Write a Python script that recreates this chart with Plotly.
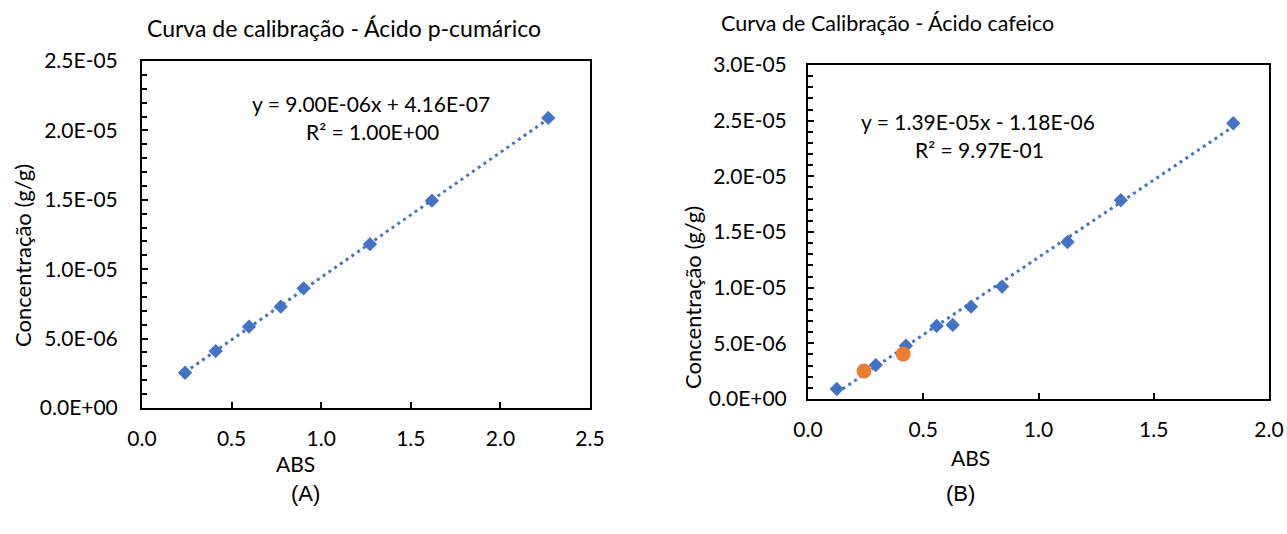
import numpy as np
import plotly.graph_objects as go

# ---------------- data ----------------
# (A) Ácido p-cumárico
abs_a = [0.240, 0.411, 0.597, 0.774, 0.902, 1.272, 1.618, 2.267]
conc_a = [2.54e-6, 4.10e-6, 5.86e-6, 7.30e-6, 8.62e-6, 1.18e-5, 1.494e-5, 2.09e-5]
slope_a, intercept_a = 9.00e-6, 4.16e-7
eq_a = "y = 9.00E-06x + 4.16E-07"
r2_a = "R² = 1.00E+00"

# (B) Ácido cafeico
abs_b = [0.125, 0.294, 0.425, 0.558, 0.628, 0.707, 0.842, 1.126, 1.357, 1.845]
conc_b = [0.90e-6, 3.05e-6, 4.79e-6, 6.56e-6, 6.65e-6, 8.29e-6, 1.01e-5, 1.41e-5, 1.785e-5, 2.477e-5]
abs_b_samples = [0.243, 0.413]
conc_b_samples = [2.52e-6, 4.04e-6]
slope_b, intercept_b = 1.39e-5, -1.18e-6
eq_b = "y = 1.39E-05x - 1.18E-06"
r2_b = "R² = 9.97E-01"

title_a = "Curva de calibração - Ácido p-cumárico"
title_b = "Curva de Calibração - Ácido cafeico"
xtitle = "ABS"
ytitle = "Concentração (g/g)"

ytick_a = [0, 5e-6, 1e-5, 1.5e-5, 2e-5, 2.5e-5]
ytext_a = ["0.0E+00", "5.0E-06", "1.0E-05", "1.5E-05", "2.0E-05", "2.5E-05"]
ytick_b = [0, 5e-6, 1e-5, 1.5e-5, 2e-5, 2.5e-5, 3e-5]
ytext_b = ["0.0E+00", "5.0E-06", "1.0E-05", "1.5E-05", "2.0E-05", "2.5E-05", "3.0E-05"]

# ---------------- layout helpers ----------------
W, H = 1287, 534
def px(x):
    return x / W
def py(y):
    return 1 - y / H

BLUE = "#4472C4"
ORANGE = "#ED7D31"
FONT = "Lato"

fig = go.Figure()

# trendlines
xa = np.array([min(abs_a), max(abs_a)])
fig.add_trace(go.Scatter(x=xa, y=slope_a * xa + intercept_a, mode="lines",
                         line=dict(color=BLUE, width=3, dash="3px,4px"),
                         xaxis="x", yaxis="y", showlegend=False, hoverinfo="skip"))
xb = np.array([min(abs_b), max(abs_b)])
fig.add_trace(go.Scatter(x=xb, y=slope_b * xb + intercept_b, mode="lines",
                         line=dict(color=BLUE, width=3, dash="3px,4px"),
                         xaxis="x2", yaxis="y2", showlegend=False, hoverinfo="skip"))

# points
fig.add_trace(go.Scatter(x=abs_a, y=conc_a, mode="markers",
                         marker=dict(symbol="diamond", size=11, color=BLUE),
                         xaxis="x", yaxis="y", showlegend=False))
fig.add_trace(go.Scatter(x=abs_b, y=conc_b, mode="markers",
                         marker=dict(symbol="diamond", size=11, color=BLUE),
                         xaxis="x2", yaxis="y2", showlegend=False))
fig.add_trace(go.Scatter(x=abs_b_samples, y=conc_b_samples, mode="markers",
                         marker=dict(symbol="circle", size=15, color=ORANGE),
                         xaxis="x2", yaxis="y2", showlegend=False))

axis_common = dict(showline=True, linecolor="black", linewidth=2, mirror=True, automargin=False,
                   showgrid=False, zeroline=False, ticks="inside", tickcolor="black",
                   tickwidth=2, ticklen=6, ticklabeloverflow="allow",
                   tickfont=dict(family=FONT, size=21, color="black"))
minor_y = dict(ticks="inside", dtick=1e-6, ticklen=5, tickwidth=1.5, tickcolor="black")

fig.update_layout(
    width=W, height=H, autosize=False,
    margin=dict(l=0, r=0, t=0, b=0),
    paper_bgcolor="white", plot_bgcolor="white",
    showlegend=False,
    xaxis=dict(domain=[px(142), px(590)], range=[0, 2.5], tickvals=[0, 0.5, 1.0, 1.5, 2.0, 2.5],
               tickformat=".1f", anchor="y", ticklabelstandoff=11, **axis_common),
    yaxis=dict(domain=[py(408), py(61)], range=[0, 2.5e-5], tickvals=ytick_a, ticktext=ytext_a,
               anchor="x", ticklabelstandoff=18, minor=minor_y, **axis_common),
    xaxis2=dict(domain=[px(808), px(1269)], range=[0, 2.0], tickvals=[0, 0.5, 1.0, 1.5, 2.0],
                tickformat=".1f", anchor="y2", ticklabelstandoff=11, **axis_common),
    yaxis2=dict(domain=[py(399), py(65)], range=[0, 3.0e-5], tickvals=ytick_b, ticktext=ytext_b,
                anchor="x2", ticklabelstandoff=15, minor=minor_y, **axis_common),
)

def ann(text, x, y, size=21, family=FONT, angle=0):
    fig.add_annotation(text=text, x=px(x), y=py(y), xref="paper", yref="paper",
                       showarrow=False, xanchor="center", yanchor="middle", textangle=angle,
                       font=dict(family=family, size=size, color="black"))

ann(title_a, 344, 28, size=23)
ann(title_b, 888, 23, size=21.5)
ann(xtitle, 295, 463)
ann(xtitle, 970, 457)
ann(ytitle, 22, 256, angle=-90, size=22)
ann(ytitle, 692, 298, angle=-90, size=22)
ann(eq_a, 371, 103)
ann(r2_a, 372, 132)
ann(eq_b, 978, 121)
ann(r2_b, 979, 149)
ann("(A)", 305, 493, size=22, family="Liberation Sans")
ann("(B)", 960, 493, size=22, family="Liberation Sans")

fig.write_html(
    "out.html",
    config={"displayModeBar": False},
    post_script="document.body.style.margin='0';document.body.style.overflow='hidden';",
)
